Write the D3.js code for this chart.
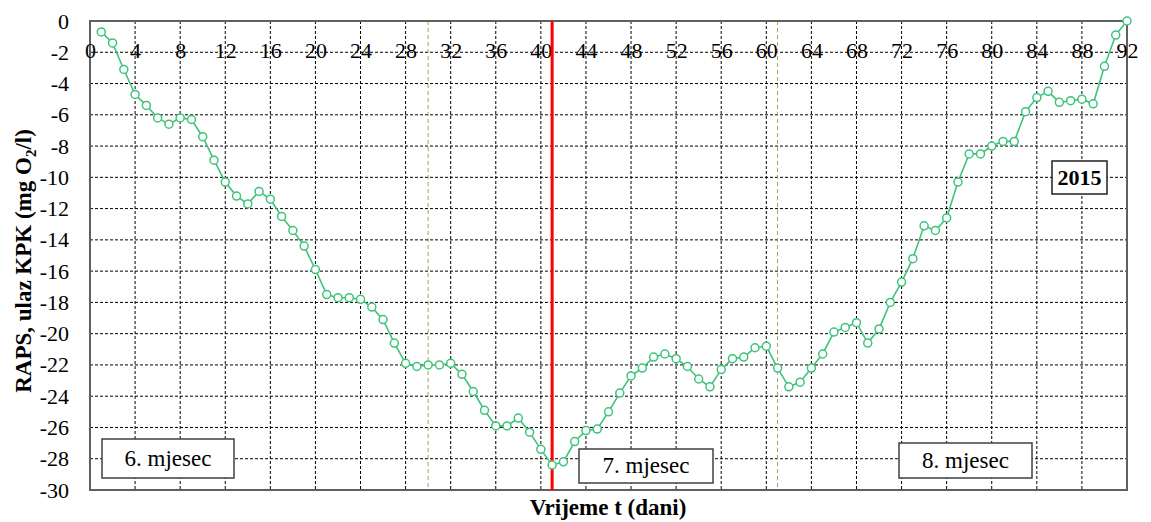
<!DOCTYPE html>
<html><head><meta charset="utf-8">
<script src="https://cdn.jsdelivr.net/npm/d3@7"></script>
</head>
<body style="margin:0;background:#fff">
<svg id="c" width="1151" height="522" font-family="Liberation Serif"></svg>
<script>
const days = d3.range(1, 93);
const raps = [-0.7,-1.4,-3.1,-4.7,-5.4,-6.2,-6.6,-6.2,-6.3,-7.4,
  -8.9,-10.3,-11.2,-11.7,-10.9,-11.4,-12.5,-13.4,-14.4,-15.9,
  -17.5,-17.7,-17.7,-17.8,-18.3,-19.1,-20.6,-21.9,-22.1,-22.0,
  -22.0,-21.9,-22.6,-23.7,-24.9,-25.9,-25.9,-25.4,-26.3,-27.4,
  -28.4,-28.2,-26.9,-26.2,-26.1,-25.0,-23.8,-22.7,-22.2,-21.5,
  -21.3,-21.6,-22.1,-22.9,-23.4,-22.3,-21.6,-21.5,-20.9,-20.8,
  -22.2,-23.4,-23.1,-22.2,-21.3,-19.9,-19.6,-19.3,-20.6,-19.7,
  -18.0,-16.7,-15.2,-13.1,-13.4,-12.6,-10.3,-8.5,-8.5,-8.0,
  -7.7,-7.7,-5.8,-4.9,-4.5,-5.2,-5.1,-5.0,-5.3,-2.9,
  -0.9,0.0];
const xTicks = d3.range(0, 93, 4);
const yTicks = d3.range(0, -31, -2);
const monthLines = [30, 61];
const markerDay = 41;
const monthLabels = ["6. mjesec", "7. mjesec", "8. mjesec"];
const yearLabel = "2015";

const FONT = "Liberation Serif";
const GREEN = "#3ec47a";
const svg = d3.select("#c");
const L = 90, R = 1127, T = 21, B = 490;
const x = d3.scaleLinear().domain([0, 92]).range([L, R]);
const y = d3.scaleLinear().domain([0, -30]).range([T, B]);

// grid
const g = svg.append("g");
g.selectAll(".vg").data(xTicks.filter(d => d > 0 && d < 92)).join("line")
  .attr("x1", d => x(d)).attr("x2", d => x(d)).attr("y1", T).attr("y2", B)
  .attr("stroke", "#000").attr("stroke-width", 1).attr("stroke-dasharray", "3,2");
g.selectAll(".hg").data(yTicks.filter(d => d < 0 && d > -30)).join("line")
  .attr("x1", L).attr("x2", R).attr("y1", d => y(d)).attr("y2", d => y(d))
  .attr("stroke", "#000").attr("stroke-width", 1).attr("stroke-dasharray", "3,2");
g.selectAll(".ml").data(monthLines).join("line")
  .attr("x1", d => x(d)).attr("x2", d => x(d)).attr("y1", T).attr("y2", B)
  .attr("stroke", "#98aa58").attr("stroke-width", 1).attr("stroke-dasharray", "4,3");

// border
svg.append("rect").attr("x", L).attr("y", T).attr("width", R - L).attr("height", B - T)
  .attr("fill", "none").attr("stroke", "#606060").attr("stroke-width", 2);

// axes labels
const xa = d3.axisBottom(x).tickValues(xTicks).tickSize(0).tickPadding(0);
const xg = svg.append("g").attr("transform", `translate(0,58)`).call(xa);
xg.attr("font-family", FONT).attr("font-size", 22);
xg.select(".domain").remove();
xg.selectAll("text").attr("fill", "#000").attr("y", 0).attr("dy", 0);

const ya = d3.axisLeft(y).tickValues(yTicks).tickSize(0).tickPadding(21)
  .tickFormat(d => String(d));
const yg = svg.append("g").attr("transform", `translate(${L},0)`).call(ya);
yg.attr("font-family", FONT).attr("font-size", 22);
yg.select(".domain").remove();
yg.selectAll("text").attr("fill", "#000");

// red marker line
svg.append("line").attr("x1", x(markerDay)).attr("x2", x(markerDay))
  .attr("y1", T).attr("y2", B).attr("stroke", "#ff0000").attr("stroke-width", 3);

// series
const data = days.map((d, i) => ({d, v: raps[i]}));
svg.append("path").datum(data)
  .attr("d", d3.line().x(p => x(p.d)).y(p => y(p.v)))
  .attr("fill", "none").attr("stroke", GREEN).attr("stroke-width", 1.6);
svg.selectAll(".pt").data(data).join("circle")
  .attr("cx", p => x(p.d)).attr("cy", p => y(p.v)).attr("r", 4)
  .attr("fill", "#fff").attr("stroke", GREEN).attr("stroke-width", 1.5);

// month boxes
const boxes = [
  {t: monthLabels[0], x0: 102, y0: 439, w: 132, h: 39},
  {t: monthLabels[1], x0: 579, y0: 449, w: 134, h: 34},
  {t: monthLabels[2], x0: 899, y0: 443, w: 133, h: 35}
];
boxes.forEach(b => {
  svg.append("rect").attr("x", b.x0).attr("y", b.y0).attr("width", b.w).attr("height", b.h)
    .attr("fill", "#fff").attr("stroke", "#404040").attr("stroke-width", 1.5);
  svg.append("text").attr("x", b.x0 + b.w / 2).attr("y", b.y0 + b.h / 2 + 7)
    .attr("font-family", FONT).attr("text-anchor", "middle").attr("font-size", 23).text(b.t);
});
svg.append("rect").attr("x", 1052).attr("y", 161).attr("width", 55).attr("height", 33)
  .attr("fill", "#fff").attr("stroke", "#202020").attr("stroke-width", 1.5);
svg.append("text").attr("x", 1079.5).attr("y", 185).attr("text-anchor", "middle")
  .attr("font-family", FONT).attr("font-size", 22).attr("font-weight", "bold").text(yearLabel);

// axis titles
svg.append("text").attr("x", 608).attr("y", 515).attr("text-anchor", "middle")
  .attr("font-family", FONT).attr("font-size", 23).attr("font-weight", "bold").text("Vrijeme t (dani)");
const yt = svg.append("text").attr("transform", "translate(31,261) rotate(-90)")
  .attr("font-family", FONT).attr("text-anchor", "middle").attr("font-size", 23).attr("font-weight", "bold");
yt.append("tspan").text("RAPS, ulaz KPK (mg O");
yt.append("tspan").attr("font-size", 15).attr("dy", 5).text("2");
yt.append("tspan").attr("dy", -5).text("/l)");
</script></body></html>
